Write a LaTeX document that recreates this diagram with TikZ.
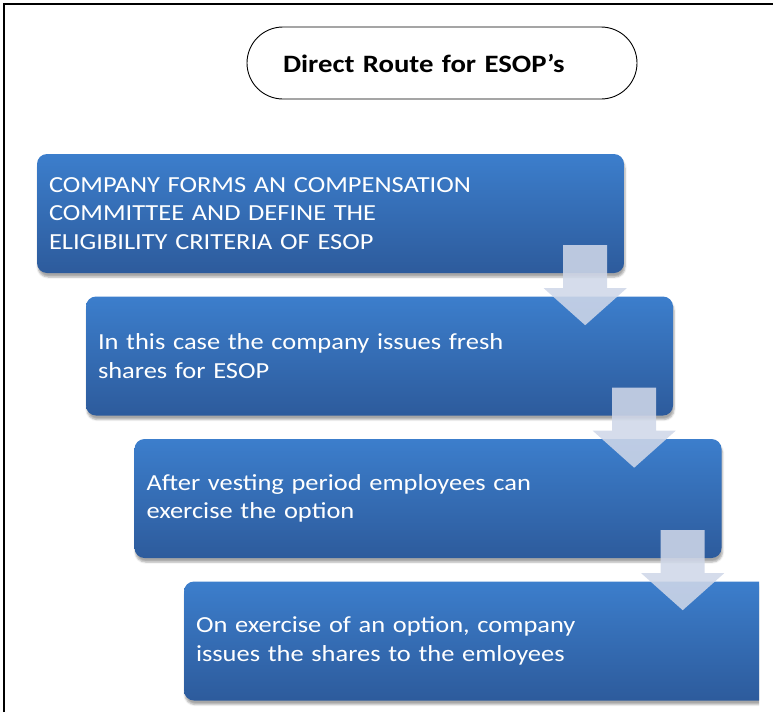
\documentclass[tikz,border=0pt]{standalone}
\usepackage{fontspec}
\setmainfont[FakeStretch=1.15]{Carlito}
\usetikzlibrary{positioning,calc,shadows.blur}

\definecolor{boxtop}{RGB}{60,126,204}
\definecolor{boxbot}{RGB}{45,91,156}
\definecolor{arrowfill}{RGB}{207,215,232}

\tikzset{
  stepbox/.style={rectangle, rounded corners=10pt, minimum width=587pt, minimum height=119pt,
    text width=563pt, inner xsep=12pt, align=left, top color=boxtop, bottom color=boxbot,
    text=white, font=\fontsize{23}{28.5}\selectfont,
    blur shadow={shadow xshift=1pt, shadow yshift=-4pt, shadow opacity=35}},
  titlebox/.style={draw, line width=0.9pt, rounded corners=36pt, minimum width=390pt,
    minimum height=72pt, text width=318pt, inner xsep=36pt, align=left,
    font=\fontsize{25}{28}\selectfont\bfseries},
  flowarrow/.style={fill=arrowfill, fill opacity=0.88}
}

\begin{document}
\begin{tikzpicture}[x=1pt, y=-1pt]
  \useasboundingbox (0,0) rectangle (773,712);
  % frame
  \draw[line width=1.5pt] (4,712) -- (4,4) -- (773,4);

  \node[titlebox] (title) at (442,63) {Direct Route for ESOP’s};

  % steps
  \node[stepbox] (s1) at (330.5,213.5) {COMPANY FORMS AN COMPENSATION\\COMMITTEE AND DEFINE THE\\ELIGIBILITY CRITERIA OF ESOP};
  \node[stepbox] (s2) at (379.5,356) {In this case the company issues fresh\\shares for ESOP};
  \node[stepbox] (s3) at (428,498.5) {After vesting period employees can\\exercise the option};
  \begin{scope}
    \clip (0,0) rectangle (759,712);
    \node[stepbox] (s4) at (477.5,641) {On exercise of an option, company\\issues the shares to the emloyees};
  \end{scope}

  % block arrows between steps
  \foreach \a in {s1,s2,s3} {
    \coordinate (t) at ($(\a.south east)+(-39,0)$);
    \fill[flowarrow] ($(t)+(-22,-28)$) -- ($(t)+(22,-28)$) -- ($(t)+(22,15)$) -- ($(t)+(41.5,15)$)
      -- ($(t)+(0,52)$) -- ($(t)+(-41.5,15)$) -- ($(t)+(-22,15)$) -- cycle;
  }
\end{tikzpicture}
\end{document}
